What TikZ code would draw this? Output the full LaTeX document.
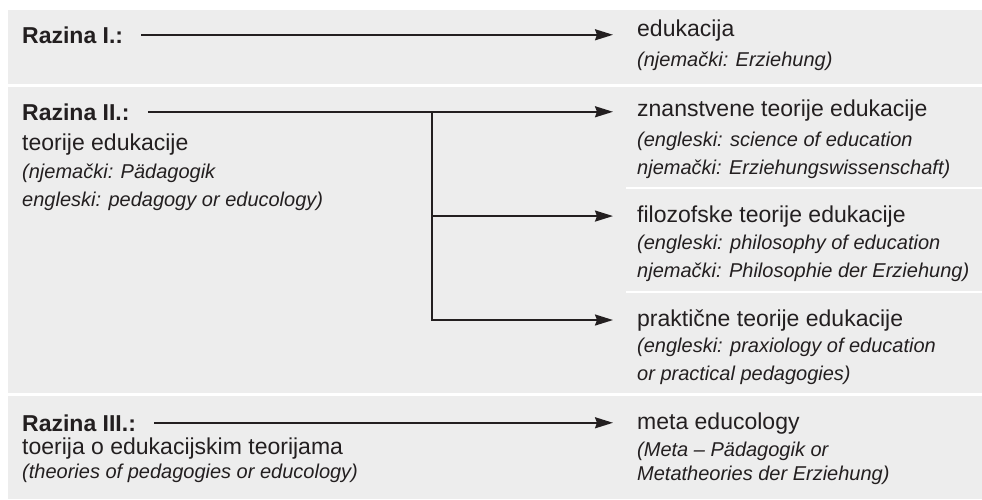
\documentclass[tikz,border=0pt]{standalone}
\usepackage{fontspec}
\setmainfont{Liberation Sans}
\usetikzlibrary{arrows.meta}
\usepackage{color}
\definecolor{panel}{HTML}{EDEDED}
\definecolor{ink}{HTML}{231F20}

\tikzset{
  level/.style={anchor=base west,inner sep=0pt,text=ink,font=\fontsize{23}{28}\selectfont\bfseries},
  title/.style={anchor=base west,inner sep=0pt,text=ink,font=\fontsize{23}{28}\selectfont},
  note/.style={anchor=base west,inner sep=0pt,text=ink,align=left,font=\fontsize{20}{28}\selectfont\itshape},
  link/.style={draw=ink,line width=2pt,shorten <=18pt,shorten >=24pt,-{Stealth[length=18pt,width=11pt,inset=2pt]}},
  branch/.style={draw=ink,line width=2pt,shorten >=24pt,-{Stealth[length=18pt,width=11pt,inset=2pt]}}
}

\begin{document}
\begin{tikzpicture}[x=1pt,y=-1pt]
  \useasboundingbox (0,0) rectangle (982,499);
  % Panels
  \fill[panel] (8,10) rectangle (982,84);
  \fill[panel] (8,87) rectangle (982,393);
  \fill[panel] (8,396) rectangle (982,499);
  \draw[white,line width=2.5pt] (626,188) -- (982,188);
  \draw[white,line width=2.5pt] (626,292) -- (982,292);
  % Levels (notes sit on the baseline of their last line)
  \node[level] (l1) at (22,43) {Razina I.:};
  \node[level] (l2) at (22,120) {Razina II.:};
  \node[level] (l3) at (22,431) {Razina III.:};
  \node[title] (d2) at (22,150) {teorije edukacije};
  \node[note] (e2) at (22,206) {(njemački: Pädagogik\\engleski: pedagogy or educology)};
  \node[title] (d3) at (22,454) {toerija o edukacijskim teorijama};
  \node[note] (e3) at (22,478) {(theories of pedagogies or educology)};
  % Targets
  \node[title] (t1) at (637,36) {edukacija};
  \node[note] (n1) at (637,66) {(njemački: Erziehung)};
  \node[title] (t2) at (637,116) {znanstvene teorije edukacije};
  \node[note] (n2) at (637,174) {(engleski: science of education\\njemački: Erziehungswissenschaft)};
  \node[title] (t3) at (637,222) {filozofske teorije edukacije};
  \node[note] (n3) at (637,277) {(engleski: philosophy of education\\njemački: Philosophie der Erziehung)};
  \node[title] (t4) at (637,326) {praktične teorije edukacije};
  \node[note] (n4) at (637,380) {(engleski: praxiology of education\\or practical pedagogies)};
  \node[title] (t5) at (637,429) {meta educology};
  \node[note,font=\fontsize{20}{24}\selectfont\itshape] (n5) at (637,480) {(Meta -- Pädagogik or\\Metatheories der Erziehung)};
  % Arrows
  \coordinate (j) at (l2.east -| 432,0);
  \draw[link] (l1.east) -- (l1.east -| t1.west);
  \draw[link] (l2.east) -- (l2.east -| t2.west);
  \draw[branch] (j) |- (t3.west);
  \draw[branch] (j) |- (t4.west);
  \draw[link] (l3.east) -- (l3.east -| t5.west);
\end{tikzpicture}
\end{document}
